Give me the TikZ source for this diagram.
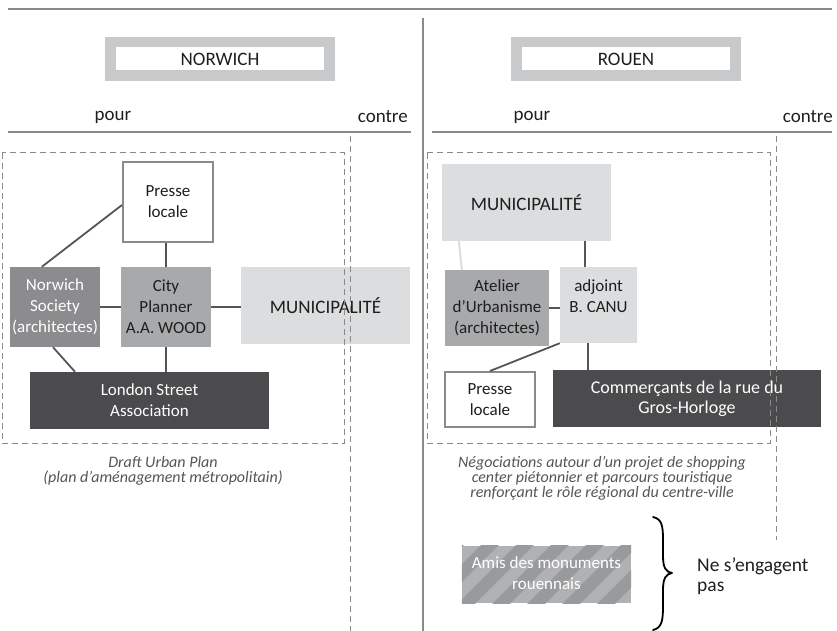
\documentclass[tikz,border=0pt]{standalone}
\usepackage{fontspec}
\setmainfont{Carlito}
\usetikzlibrary{calc}
\definecolor{txt}{HTML}{1E1E1E}
\definecolor{cap}{HTML}{555555}
\definecolor{rule}{HTML}{8A8A8A}
\definecolor{conn}{HTML}{555555}
\definecolor{hdr}{HTML}{C8C9CA}
\definecolor{gdark}{HTML}{4B4B4D}
\definecolor{gmid}{HTML}{8C8C8E}
\definecolor{glight}{HTML}{A8A9AB}
\definecolor{gpale}{HTML}{DCDDDE}
\definecolor{strA}{HTML}{B0B1B3}
\definecolor{strB}{HTML}{999A9C}
\begin{document}
\begin{tikzpicture}[x=1pt,y=-1pt,
  every node/.style={inner sep=0pt, font=\fontsize{17}{21}\selectfont, text=txt, align=center},
  box/.style={rectangle, draw=none},
  hdrbox/.style={rectangle, draw=hdr, line width=10.5pt, fill=white, minimum width=219pt, minimum height=33.5pt, font=\fontsize{19}{21}\selectfont},
  pressebox/.style={rectangle, draw=rule, line width=2pt, fill=white},
  link/.style={draw=conn, line width=1.8pt},
  lightlink/.style={draw=gpale, line width=2pt},
  frame/.style={draw=rule, line width=1pt, dash pattern=on 6pt off 4pt},
  rulebar/.style={draw=rule, line width=2pt},
  capt/.style={font=\fontsize{16}{15}\selectfont\itshape, text=cap},
  big/.style={font=\fontsize{19}{21}\selectfont},
]
\useasboundingbox (0,0) rectangle (837,631);

% rules
\coordinate (tl) at (8,9); \coordinate (tr) at (832,9);
\draw[rulebar] (tl) -- (tr);
\coordinate (vt) at (423,18); \coordinate (vb) at (423,631);
\draw[rulebar] (vt) -- (vb);
\coordinate (hl1) at (8,132); \coordinate (hr1) at (411,132);
\coordinate (hl2) at (432,132); \coordinate (hr2) at (832,132);
\draw[rulebar] (hl1) -- (hr1);
\draw[rulebar] (hl2) -- (hr2);

% headers
\node[hdrbox] (norwich) at (220,59) {NORWICH};
\node[hdrbox] (rouen) at (626,59) {ROUEN};
\node[big] (pourN) at (113,117) {pour};
\node[big, anchor=east] (contreN) at (408,117) {contre};
\node[big] (pourR) at (532,117) {pour};
\node[big, anchor=east] (contreR) at (833,117) {contre};

% ---------- Norwich ----------
\node[pressebox, minimum width=90pt, minimum height=80pt] (presseN) at (168,202) {Presse\\locale};
\node[box, fill=gmid, text=white, minimum width=90pt, minimum height=80pt] (socN) at (55,307) {Norwich\\Society\\(architectes)};
\node[box, fill=glight, minimum width=90pt, minimum height=80pt] (cityN) at (166,307) {City\\Planner\\A.A. WOOD};
\node[box, big, fill=gpale, minimum width=169pt, minimum height=77pt] (muniN) at (325.5,305.5) {MUNICIPALIT\'E};
\node[box, fill=gdark, text=white, minimum width=239pt, minimum height=57pt] (londonN) at (149.5,400.5) {London Street\\Association};

\draw[link] ([yshift=-3pt]presseN.west) -- ([xshift=32pt]socN.north west);
\draw[link] (cityN.north |- presseN.south) -- (cityN.north);
\draw[link] (socN.east) -- (cityN.west);
\draw[link] (cityN.east) -- (cityN.east -| muniN.west);
\draw[link] ([xshift=-2pt]socN.south) -- ([xshift=-74.5pt]londonN.north);
\draw[link] (cityN.south) -- (cityN.south |- londonN.north);

\node[capt] (captN) at (163,470.5) {Draft Urban Plan\\(plan d’aménagement métropolitain)};

% ---------- Rouen ----------
\node[box, big, fill=gpale, minimum width=169pt, minimum height=77pt] (muniR) at (526.5,202.5) {MUNICIPALIT\'E};
\node[box, fill=glight, minimum width=104pt, minimum height=76pt] (atelR) at (497,308) {Atelier\\d’Urbanisme\\(architectes)};
\node[box, fill=gpale, minimum width=77pt, minimum height=76pt] (adjR) at (598.5,305) {};
\node (adjT) at (598.5,296) {adjoint\\B. CANU};
\node[pressebox, minimum width=90pt, minimum height=55pt] (presseR) at (490,399.5) {Presse\\locale};
\node[box, fill=gdark, text=white, minimum width=268pt, minimum height=57pt, font=\fontsize{18}{20}\selectfont] (commR) at (687,398.5) {Commerçants de la rue du\\Gros-Horloge};

\draw[lightlink] ([xshift=17pt]muniR.south west) -- ([xshift=17pt]atelR.north west);
\draw[link] ([xshift=-13.5pt]adjR.north |- muniR.south) -- ([xshift=-13.5pt]adjR.north);
\draw[link] (atelR.east) -- (atelR.east -| adjR.west);
\draw[link] (adjR.south west) -- (presseR.north);
\draw[link] ([xshift=-10.5pt]adjR.south) -- ([xshift=-10.5pt]adjR.south |- commR.north);

\node[capt] (captR) at (602,478) {Négociations autour d’un projet de shopping\\center piétonnier et parcours touristique\\renforçant le rôle régional du centre-ville};

% dashed frames (on top)
\draw[frame] (2,153) rectangle (344,443);
\coordinate (dnt) at (350,136); \coordinate (dnb) at (350,631);
\draw[frame] (dnt) -- (dnb);
\draw[frame] (427,153) rectangle (770,443);
\coordinate (drt) at (776,136); \coordinate (drb) at (776,540);
\draw[frame] (drt) -- (drb);

% Amis des monuments (striped)
\node[box, fill=strA, minimum width=169pt, minimum height=57pt] (amis) at (546.5,574.5) {};
\begin{scope}
  \clip (amis.north west) rectangle (amis.south east);
  \foreach \s in {380,415,...,660} {
    \draw[strB, line width=12.4pt] (\s,620) -- (\s+90,530);
  }
\end{scope}
\node[text=white, font=\fontsize{17}{21}\selectfont] (amisT) at (546.5,573.5) {Amis des monuments\\rouennais};

% brace
\coordinate (bt) at (653,517);
\coordinate (bm) at (672,573);
\coordinate (bb) at (653,630);
\draw[black, line width=1.8pt, line cap=round]
  (bt) .. controls (662,519) and (663,526) .. (663,540)
  -- (663,556) .. controls (663,568) and (666,572) .. (bm)
  (bm) .. controls (666,574) and (663,578) .. (663,590)
  -- (663,606) .. controls (663,620) and (662,628) .. (bb);
\node[anchor=west, align=left, font=\fontsize{19.5}{20}\selectfont] (neT) at (697,576) {Ne s’engagent\\pas};
\end{tikzpicture}
\end{document}
